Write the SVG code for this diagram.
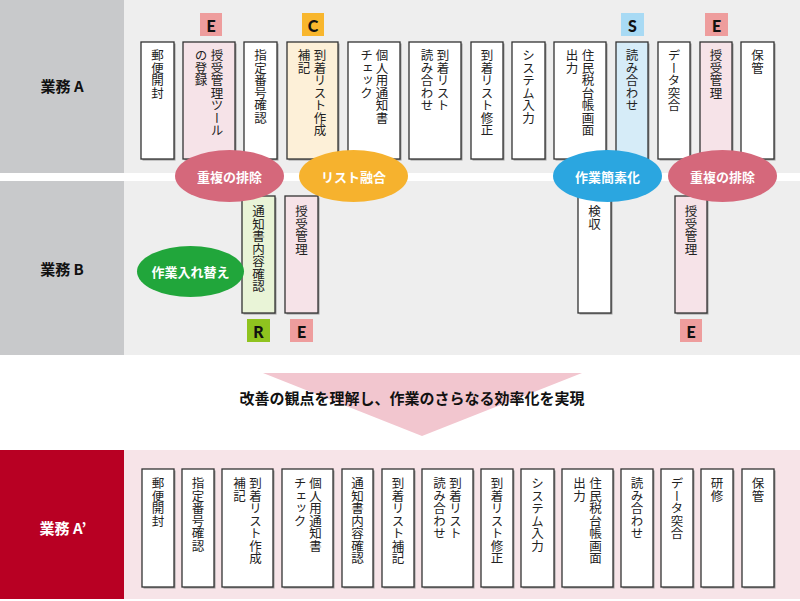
<svg xmlns="http://www.w3.org/2000/svg" width="800" height="601" viewBox="0 0 800 601">
<style>
.bx{stroke:#333;stroke-width:1.3}
.sh{fill:#9a9a9a}
.w{fill:#fff}.pk{fill:#f6e3e8}.or{fill:#fdf0d8}.bl{fill:#d6ecf8}.gr{fill:#e9f4d7}
.vt{font-family:"Noto Sans CJK JP","Noto Sans",sans-serif;font-size:12.5px;writing-mode:vertical-rl;dominant-baseline:central;fill:#222}
.tag{font-family:Lato,"Liberation Sans",sans-serif;font-weight:900;font-size:16px;text-anchor:middle;dominant-baseline:central;fill:#111}
.el{font-family:"Noto Sans CJK JP",sans-serif;font-weight:bold;font-size:13px;fill:#fff;text-anchor:middle;dominant-baseline:central}
.lb{font-family:"Noto Sans CJK JP",sans-serif;font-weight:bold;font-size:15px;text-anchor:middle;dominant-baseline:central}
</style>
<g id="background">
<rect x="0" y="0" width="124" height="173" fill="#c8c9cb"/>
<rect x="124" y="0" width="676" height="173" fill="#eeeeee"/>
<rect x="0" y="181" width="124" height="174" fill="#c8c9cb"/>
<rect x="124" y="181" width="676" height="174" fill="#eeeeee"/>
<rect x="0" y="450" width="124" height="149" fill="#b80023"/>
<rect x="124" y="450" width="676" height="149" fill="#f7e4e8"/>
<text class="lb" x="62" y="85" fill="#111">業務 A</text>
<text class="lb" x="62" y="268" fill="#111">業務 B</text>
<text class="lb" x="63" y="527" fill="#fff">業務 A’</text>
</g>
<g id="rowA">
<g id="a1"><rect class="sh" x="142.5" y="43.5" width="33" height="117"/><rect class="bx w" x="141" y="42" width="33" height="117"/><text class="vt" x="157.5" y="49">郵便開封</text></g>
<g id="a2"><rect class="sh" x="184.5" y="43.5" width="52" height="117"/><rect class="bx pk" x="183" y="42" width="52" height="117"/><text class="vt" x="217" y="49">授受管理ツール</text><text class="vt" x="201" y="49">の登録</text></g>
<g id="a3"><rect class="sh" x="245.5" y="43.5" width="33" height="117"/><rect class="bx w" x="244" y="42" width="33" height="117"/><text class="vt" x="260.5" y="49">指定番号確認</text></g>
<g id="a4"><rect class="sh" x="288.5" y="43.5" width="51" height="117"/><rect class="bx or" x="287" y="42" width="51" height="117"/><text class="vt" x="320" y="49">到着リスト作成</text><text class="vt" x="304" y="49">補記</text></g>
<g id="a5"><rect class="sh" x="349.5" y="43.5" width="52" height="117"/><rect class="bx w" x="348" y="42" width="52" height="117"/><text class="vt" x="382" y="49">個人用通知書</text><text class="vt" x="366.5" y="49">チェック</text></g>
<g id="a6"><rect class="sh" x="410.5" y="43.5" width="52" height="117"/><rect class="bx w" x="409" y="42" width="52" height="117"/><text class="vt" x="443" y="49">到着リスト</text><text class="vt" x="427" y="49">読み合わせ</text></g>
<g id="a7"><rect class="sh" x="472.5" y="43.5" width="32" height="117"/><rect class="bx w" x="471" y="42" width="32" height="117"/><text class="vt" x="487" y="49">到着リスト修正</text></g>
<g id="a8"><rect class="sh" x="513.5" y="43.5" width="33" height="117"/><rect class="bx w" x="512" y="42" width="33" height="117"/><text class="vt" x="528.5" y="49">システム入力</text></g>
<g id="a9"><rect class="sh" x="555.5" y="43.5" width="52" height="117"/><rect class="bx w" x="554" y="42" width="52" height="117"/><text class="vt" x="588" y="49">住民税台帳画面</text><text class="vt" x="572" y="49">出力</text></g>
<g id="a10"><rect class="sh" x="617.5" y="43.5" width="32" height="117"/><rect class="bx bl" x="616" y="42" width="32" height="117"/><text class="vt" x="632" y="49">読み合わせ</text></g>
<g id="a11"><rect class="sh" x="659.5" y="43.5" width="32" height="117"/><rect class="bx w" x="658" y="42" width="32" height="117"/><text class="vt" x="674" y="49">データ突合</text></g>
<g id="a12"><rect class="sh" x="701.5" y="43.5" width="32" height="117"/><rect class="bx pk" x="700" y="42" width="32" height="117"/><text class="vt" x="716" y="49">授受管理</text></g>
<g id="a13"><rect class="sh" x="742.5" y="43.5" width="33" height="117"/><rect class="bx w" x="741" y="42" width="33" height="117"/><text class="vt" x="757.5" y="49">保管</text></g>
</g>
<g id="rowB">
<g id="b1"><rect class="sh" x="243.5" y="197.5" width="33" height="117"/><rect class="bx gr" x="242" y="196" width="33" height="117"/><text class="vt" x="258.5" y="205">通知書内容確認</text></g>
<g id="b2"><rect class="sh" x="286.5" y="197.5" width="33" height="117"/><rect class="bx pk" x="285" y="196" width="33" height="117"/><text class="vt" x="301.5" y="205">授受管理</text></g>
<g id="b3"><rect class="sh" x="579.5" y="197.5" width="33" height="117"/><rect class="bx w" x="578" y="196" width="33" height="117"/><text class="vt" x="594.5" y="205">検収</text></g>
<g id="b4"><rect class="sh" x="676.5" y="197.5" width="32" height="117"/><rect class="bx pk" x="675" y="196" width="32" height="117"/><text class="vt" x="691" y="205">授受管理</text></g>
</g>
<g id="tags">
<rect x="200" y="13" width="22" height="23" fill="#ee9d9d"/><text class="tag" x="211" y="25">E</text>
<rect x="302" y="13" width="22" height="23" fill="#f8b62d"/><text class="tag" x="313" y="25">C</text>
<rect x="621" y="13" width="23" height="23" fill="#a8daf4"/><text class="tag" x="632.5" y="25">S</text>
<rect x="705" y="13" width="23" height="23" fill="#ee9d9d"/><text class="tag" x="716.5" y="25">E</text>
<rect x="247" y="319" width="23" height="23" fill="#8fc31f"/><text class="tag" x="258.5" y="331">R</text>
<rect x="290" y="319" width="23" height="23" fill="#ee9d9d"/><text class="tag" x="301.5" y="331">E</text>
<rect x="680" y="319" width="22" height="23" fill="#ee9d9d"/><text class="tag" x="691" y="331">E</text>
</g>
<g id="ellipses">
<g id="e1"><ellipse cx="229.5" cy="176" rx="54.5" ry="26" fill="#d5687b"/><text class="el" x="229.5" y="176">重複の排除</text></g>
<g id="e2"><ellipse cx="353.5" cy="176" rx="54.5" ry="26" fill="#f6b22e"/><text class="el" x="353.5" y="176">リスト融合</text></g>
<g id="e3"><ellipse cx="607.5" cy="176" rx="54.5" ry="26" fill="#2ba6e0"/><text class="el" x="607.5" y="176">作業簡素化</text></g>
<g id="e4"><ellipse cx="722.5" cy="176" rx="54.5" ry="26" fill="#d5687b"/><text class="el" x="722.5" y="176">重複の排除</text></g>
<g id="e5"><ellipse cx="190.5" cy="271.5" rx="53.5" ry="25.5" fill="#21a63b"/><text class="el" x="190.5" y="271.5">作業入れ替え</text></g>
</g>
<g id="arrow">
<polygon points="263,373 582,373 422,436" fill="#f2c6cf"/>
<text class="lb" x="412" y="397" fill="#111">改善の観点を理解し、作業のさらなる効率化を実現</text>
</g>
<g id="rowA2">
<g id="c1"><rect class="sh" x="143.5" y="470.5" width="32" height="118"/><rect class="bx w" x="142" y="469" width="32" height="118"/><text class="vt" x="158" y="477">郵便開封</text></g>
<g id="c2"><rect class="sh" x="183.5" y="470.5" width="32" height="118"/><rect class="bx w" x="182" y="469" width="32" height="118"/><text class="vt" x="198" y="477">指定番号確認</text></g>
<g id="c3"><rect class="sh" x="223.5" y="470.5" width="51" height="118"/><rect class="bx w" x="222" y="469" width="51" height="118"/><text class="vt" x="255.5" y="477">到着リスト作成</text><text class="vt" x="239.5" y="477">補記</text></g>
<g id="c4"><rect class="sh" x="283.5" y="470.5" width="51" height="118"/><rect class="bx w" x="282" y="469" width="51" height="118"/><text class="vt" x="315.5" y="477">個人用通知書</text><text class="vt" x="300" y="477">チェック</text></g>
<g id="c5"><rect class="sh" x="343.5" y="470.5" width="31" height="118"/><rect class="bx w" x="342" y="469" width="31" height="118"/><text class="vt" x="357.5" y="477">通知書内容確認</text></g>
<g id="c6"><rect class="sh" x="383.5" y="470.5" width="32" height="118"/><rect class="bx w" x="382" y="469" width="32" height="118"/><text class="vt" x="398" y="477">到着リスト補記</text></g>
<g id="c7"><rect class="sh" x="423.5" y="470.5" width="51" height="118"/><rect class="bx w" x="422" y="469" width="51" height="118"/><text class="vt" x="455.5" y="477">到着リスト</text><text class="vt" x="439.5" y="477">読み合わせ</text></g>
<g id="c8"><rect class="sh" x="482.5" y="470.5" width="32" height="118"/><rect class="bx w" x="481" y="469" width="32" height="118"/><text class="vt" x="497" y="477">到着リスト修正</text></g>
<g id="c9"><rect class="sh" x="522.5" y="470.5" width="33" height="118"/><rect class="bx w" x="521" y="469" width="33" height="118"/><text class="vt" x="537.5" y="477">システム入力</text></g>
<g id="c10"><rect class="sh" x="563.5" y="470.5" width="51" height="118"/><rect class="bx w" x="562" y="469" width="51" height="118"/><text class="vt" x="595.5" y="477">住民税台帳画面</text><text class="vt" x="579.5" y="477">出力</text></g>
<g id="c11"><rect class="sh" x="622.5" y="470.5" width="32" height="118"/><rect class="bx w" x="621" y="469" width="32" height="118"/><text class="vt" x="637" y="477">読み合わせ</text></g>
<g id="c12"><rect class="sh" x="662.5" y="470.5" width="32" height="118"/><rect class="bx w" x="661" y="469" width="32" height="118"/><text class="vt" x="677" y="477">データ突合</text></g>
<g id="c13"><rect class="sh" x="702.5" y="470.5" width="32" height="118"/><rect class="bx w" x="701" y="469" width="32" height="118"/><text class="vt" x="717" y="477">研修</text></g>
<g id="c14"><rect class="sh" x="743.5" y="470.5" width="32" height="118"/><rect class="bx w" x="742" y="469" width="32" height="118"/><text class="vt" x="758" y="477">保管</text></g>
</g>
</svg>
